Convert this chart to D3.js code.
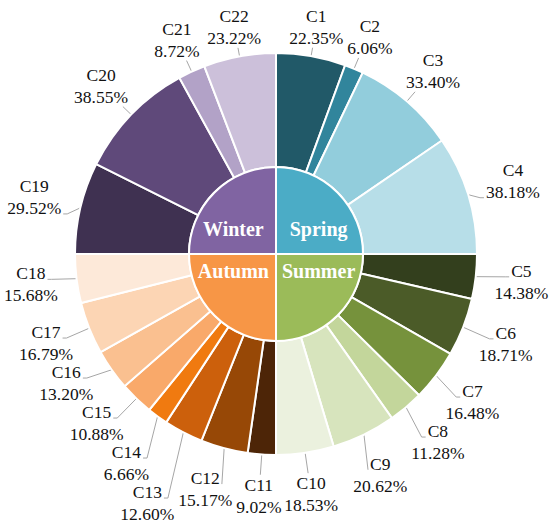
<!DOCTYPE html>
<html>
<head>
<meta charset="utf-8">
<script src="https://cdn.jsdelivr.net/npm/d3@7"></script>
<style>
body { margin: 0; background: #fff; }
</style>
</head>
<body>
<svg id="chart"></svg>
<script>
// inner ring: seasons, each a quarter of the circle
var seasons = ["Spring", "Summer", "Autumn", "Winter"];
var seasonWeights = [25, 25, 25, 25];
var seasonColors = ["#4bacc6", "#9bbb59", "#f79646", "#8064a2"];

// outer ring: categories, shares are % within their season
var categories = ["C1", "C2", "C3", "C4",
	"C5", "C6", "C7", "C8", "C9", "C10",
	"C11", "C12", "C13", "C14", "C15", "C16", "C17", "C18",
	"C19", "C20", "C21", "C22"];
var categorySeason = [0, 0, 0, 0,
	1, 1, 1, 1, 1, 1,
	2, 2, 2, 2, 2, 2, 2, 2,
	3, 3, 3, 3];
var categoryShares = [22.35, 6.06, 33.40, 38.18,
	14.38, 18.71, 16.48, 11.28, 20.62, 18.53,
	9.02, 15.17, 12.60, 6.66, 10.88, 13.20, 16.79, 15.68,
	29.52, 38.55, 8.72, 23.22];
var categoryColors = ["#215968", "#31859c", "#92cddc", "#b7dee8",
	"#333f1d", "#4b5b28", "#76923c", "#c3d69b", "#d7e4bd", "#ebf1de",
	"#4d2507", "#974806", "#cc600c", "#f07a10", "#f9a96a", "#fac090", "#fcd5b4", "#fde9d9",
	"#3f3151", "#5f497a", "#b2a2c7", "#ccc0da"];

var width = 549;
var height = 527;
var cx = 276, cy = 254;
var innerR = 87;
var outerR = 201;
var fontFamily = "'Liberation Serif', 'Times New Roman', serif";
var fontSize = 17.5;

var svg = d3.select("#chart").attr("width", width).attr("height", height);
var g = svg.append("g").attr("transform", "translate(" + cx + "," + cy + ")");

var seasonArcs = d3.pie().sort(null).value(function(d) { return d; })(seasonWeights);

var outerArcs = [];
seasonArcs.forEach(function(sa, si) {
	var idx = d3.range(categories.length).filter(function(i) { return categorySeason[i] === si; });
	var sub = d3.pie().sort(null)
		.value(function(i) { return categoryShares[i]; })
		.startAngle(sa.startAngle).endAngle(sa.endAngle)(idx);
	sub.forEach(function(a) { outerArcs.push(a); });
});

var innerArc = d3.arc().innerRadius(0).outerRadius(innerR);
var ringArc = d3.arc().innerRadius(innerR).outerRadius(outerR);

var lineLayer = g.append("g");

g.append("g").selectAll("path")
	.data(outerArcs)
	.enter().append("path")
	.attr("d", ringArc)
	.attr("fill", function(d) { return categoryColors[d.data]; })
	.attr("stroke", "#fff")
	.attr("stroke-width", 2);

g.append("g").selectAll("path")
	.data(seasonArcs)
	.enter().append("path")
	.attr("d", innerArc)
	.attr("fill", function(d, i) { return seasonColors[i]; })
	.attr("stroke", "#fff")
	.attr("stroke-width", 2);

g.append("g").selectAll("text")
	.data(seasonArcs)
	.enter().append("text")
	.attr("x", function(d) { var m = (d.startAngle + d.endAngle) / 2; return Math.sign(Math.sin(m)) * innerR * 0.49; })
	.attr("y", function(d) { var m = (d.startAngle + d.endAngle) / 2; return Math.sign(-Math.cos(m)) * innerR * 0.24 + 3; })
	.attr("text-anchor", "middle")
	.style("font-family", fontFamily)
	.attr("font-weight", "bold")
	.attr("font-size", 20)
	.attr("fill", "#fff")
	.text(function(d, i) { return seasons[i]; });

// measure label lines
var measure = svg.append("text").style("font-family", fontFamily).attr("font-size", fontSize);
function textWidth(s) { measure.text(s); return measure.node().getComputedTextLength(); }

function labelRadius(s, c) {
	return c < 0 ? outerR + 26 + 22 * Math.abs(s) : outerR + 41 + 5 * Math.abs(s);
}

var labels = outerArcs.map(function(a) {
	var i = a.data;
	var mid = (a.startAngle + a.endAngle) / 2;
	var s = Math.sin(mid), c = -Math.cos(mid);
	var r = labelRadius(s, c);
	var w1 = textWidth(categories[i]);
	var w2 = textWidth(categoryShares[i].toFixed(2) + "%");
	return { i: i, dx: s, dy: c, x: r * s, y: r * c,
		name: categories[i], pct: categoryShares[i].toFixed(2) + "%",
		w1: w1, w2: w2, w: Math.max(w1, w2) };
});
measure.remove();

var isTop = function(L) { return Math.abs(L.dx) < 0.2; };
labels.forEach(function(L) { L.fixed = isTop(L); });

var halfH = 20, pad = 4;
function boxFor(L) {
	return { tx: L.x, b1: L.y - 5, b2: L.y + 17,
		x0: L.x - L.w / 2, x1: L.x + L.w / 2, y0: L.y - halfH, y1: L.y + halfH };
}

function constrain(L) {
	// stay outside the label ring and inside the picture
	var d = Math.sqrt(L.x * L.x + L.y * L.y);
	var rMin = labelRadius(L.x / d, L.y / d);
	if (d < rMin) { L.x *= rMin / d; L.y *= rMin / d; }
	L.x = Math.max(-cx + 2 + L.w / 2, Math.min(width - cx - 2 - L.w / 2, L.x));
	L.y = Math.max(-cy + halfH, Math.min(height - cy - 23, L.y));
}

// push overlapping label blocks apart along their smaller overlap
for (var iter = 0; iter < 400; iter++) {
	var moved = false;
	for (var p = 0; p < labels.length; p++) {
		for (var q = p + 1; q < labels.length; q++) {
			var a = labels[p], b = labels[q];
			if (a.fixed && b.fixed) continue;
			var A = boxFor(a), B = boxFor(b);
			var ox = Math.min(A.x1, B.x1) - Math.max(A.x0, B.x0) + pad;
			var oy = Math.min(A.y1, B.y1) - Math.max(A.y0, B.y0);
			if (ox <= 0 || oy <= 0) continue;
			moved = true;
			var ka = a.fixed ? 0 : (b.fixed ? 1 : 0.5);
			var kb = 1 - ka;
			if (ox < oy) {
				var sx = a.x < b.x ? -1 : 1;
				a.x += sx * ox * ka; b.x -= sx * ox * kb;
			} else {
				var sy = a.y < b.y ? -1 : 1;
				a.y += sy * oy * ka; b.y -= sy * oy * kb;
			}
			if (!a.fixed) constrain(a);
			if (!b.fixed) constrain(b);
		}
	}
	if (!moved) break;
}

labels.forEach(function(L) { L.box = boxFor(L); });

// leader lines
function radialTo(L, y) {
	var r = y / L.dy;
	return [r * L.dx, y];
}

labels.forEach(function(L) {
	var b = L.box;
	var P = [outerR * L.dx, outerR * L.dy];
	var upper = L.dy < 0;
	if (isTop(L)) {
		L.pts = [P, radialTo(L, upper ? b.b2 + 4 : b.b1 - 16)];
		return;
	}
	var side = L.dx > 0 ? 1 : -1;
	var aw = upper ? L.w2 : L.w1;
	var ay = upper ? b.b2 : b.b1;
	var ax = b.tx - side * (aw / 2 + 2);
	var ex = ax - side * 4;
	if (side * (P[0] - ex) > -2) {
		L.pts = upper ? [P, radialTo(L, b.b2 + 4)] : [P, [ax, ay]];
	} else {
		L.pts = [P, [ex, ay], [ax, ay]];
	}
});

var line = d3.line();
lineLayer.selectAll("path")
	.data(labels)
	.enter().append("path")
	.attr("d", function(L) { return line(L.pts); })
	.attr("fill", "none")
	.attr("stroke", "#a6a6a6")
	.attr("stroke-width", 1);

var labelG = g.append("g");

labels.forEach(function(L) {
	[[L.name, L.box.b1], [L.pct, L.box.b2]].forEach(function(t) {
		labelG.append("text")
			.attr("x", L.box.tx)
			.attr("y", t[1])
			.attr("text-anchor", "middle")
			.style("font-family", fontFamily)
			.attr("font-size", fontSize)
			.attr("fill", "#111")
			.text(t[0]);
	});
});
</script>
</body>
</html>
